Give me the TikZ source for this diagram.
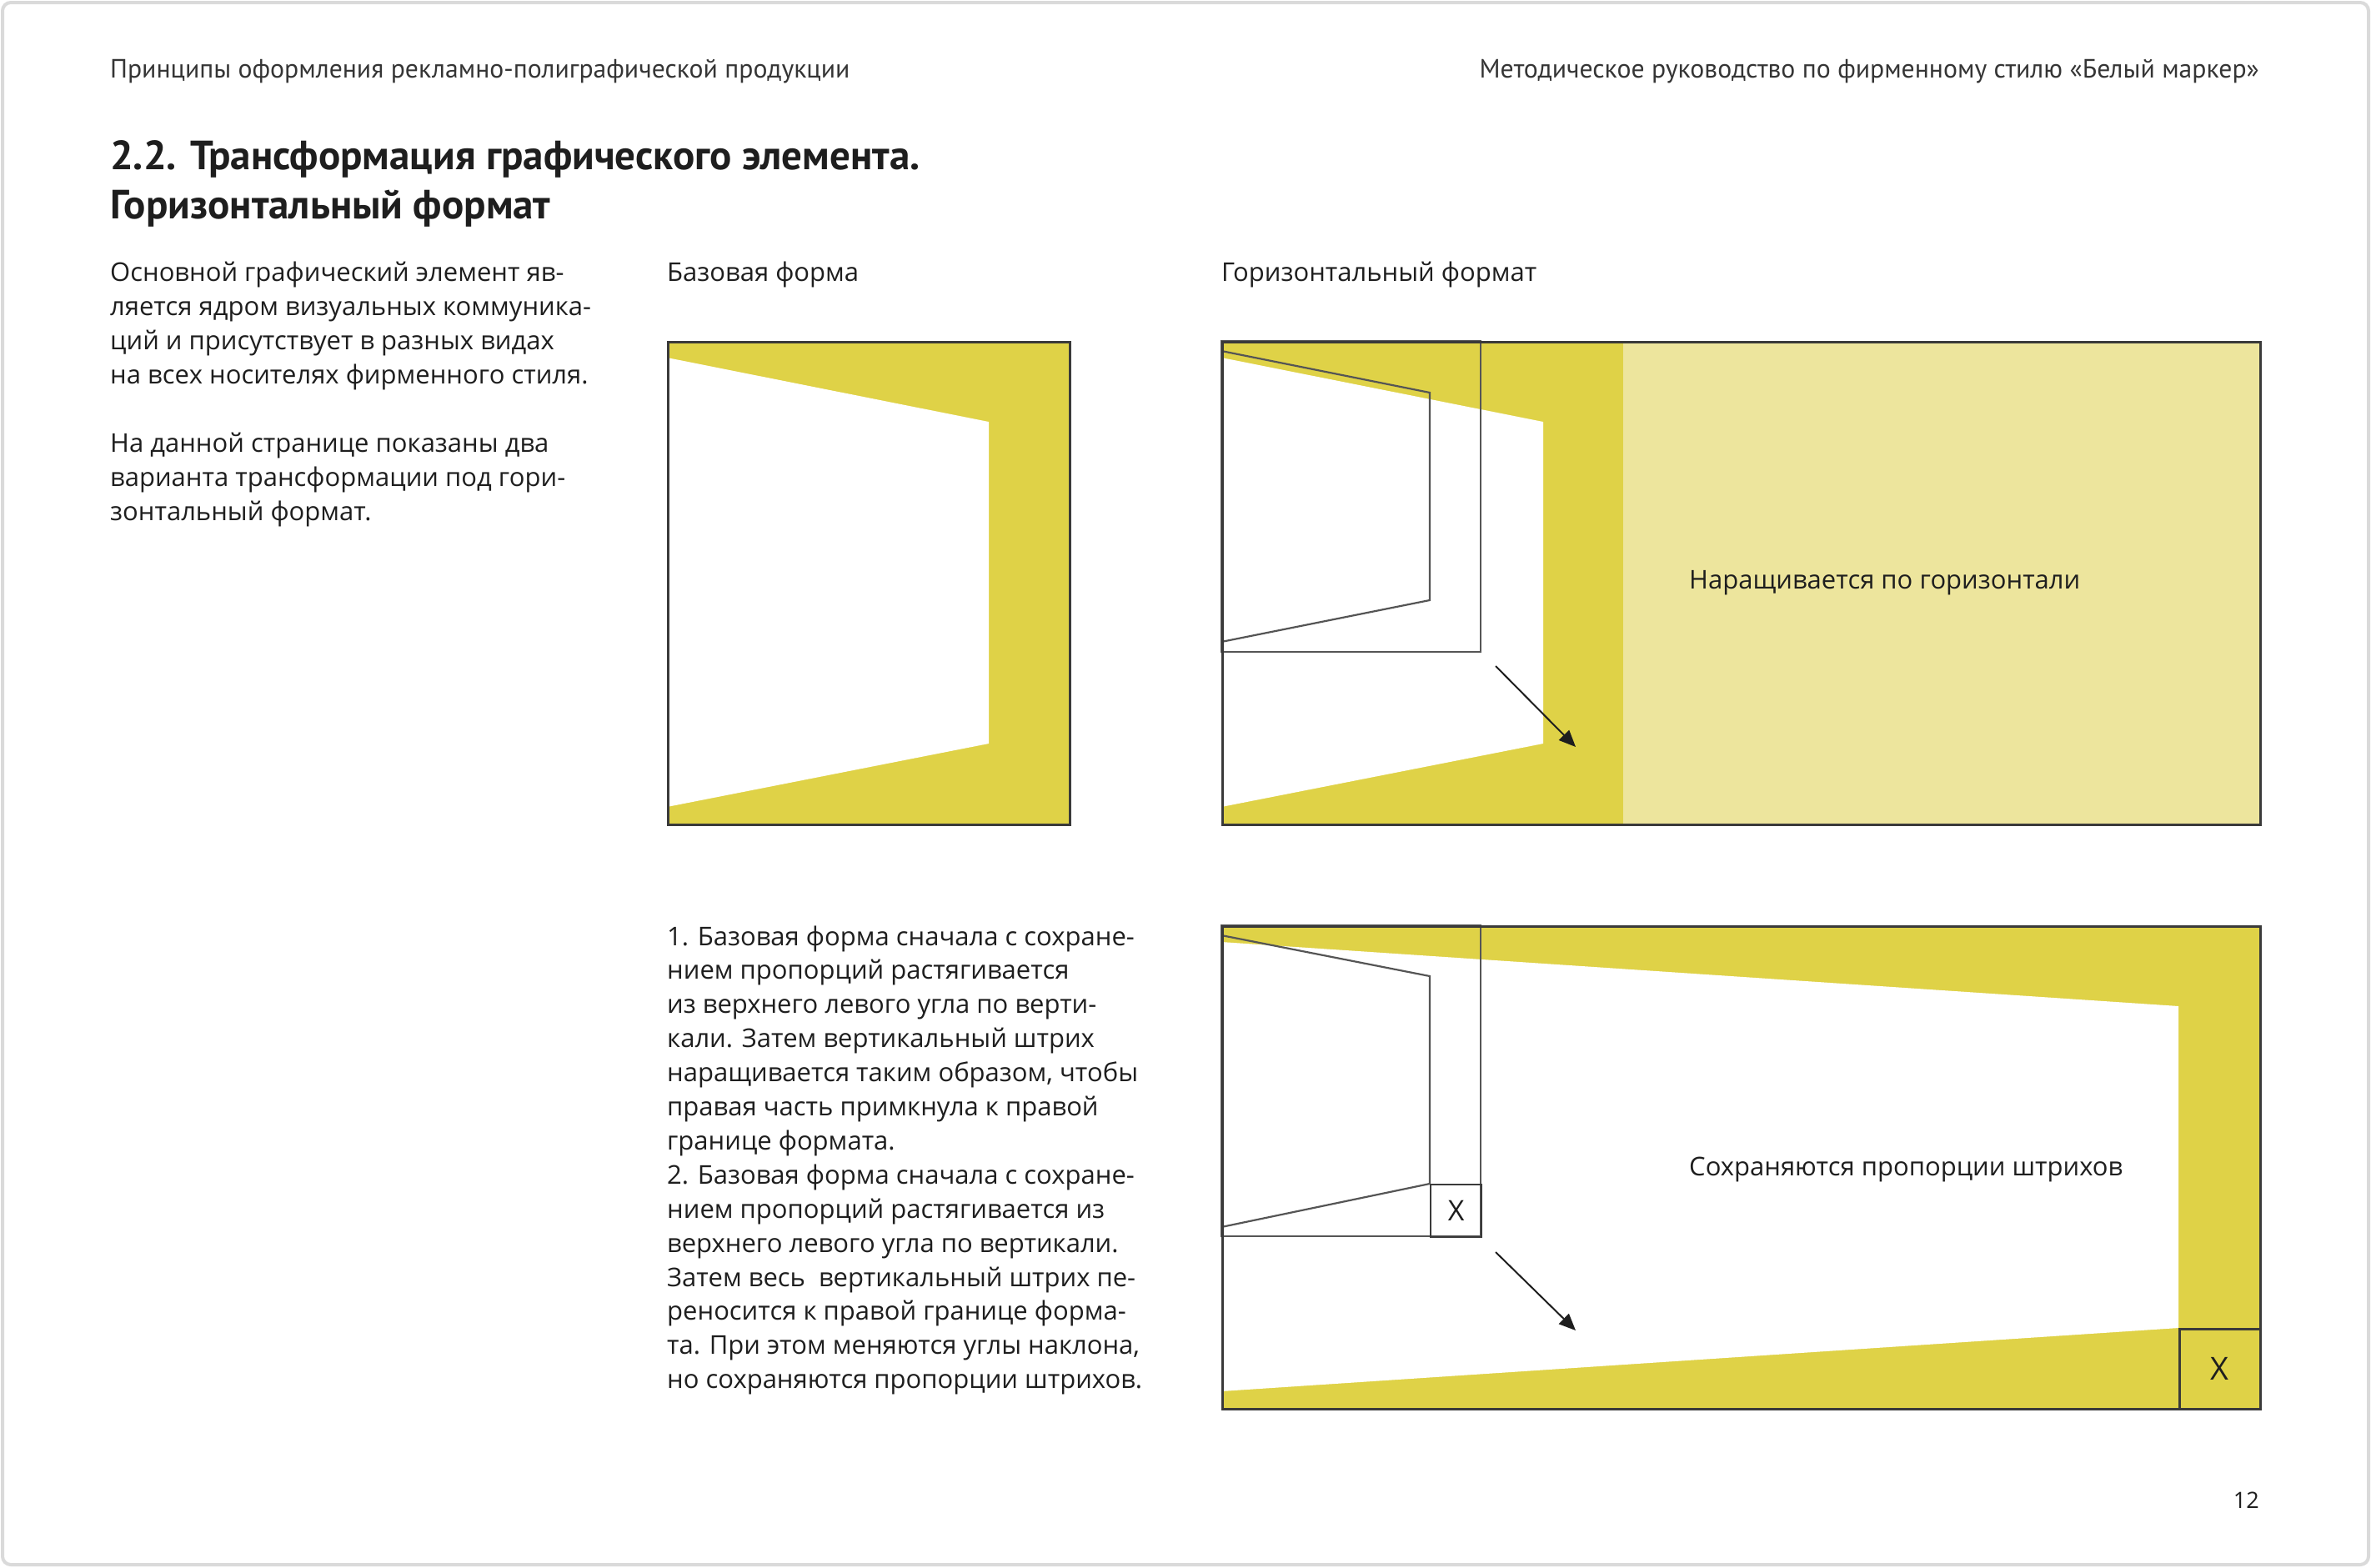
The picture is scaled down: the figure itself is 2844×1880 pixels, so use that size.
\documentclass[tikz,border=0pt]{standalone}
\usepackage{fontspec}
\setmainfont{PT Sans}
\newfontfamily\bodyf{Open Sans}
\usetikzlibrary{arrows.meta}
\definecolor{ydark}{HTML}{DFD247}
\definecolor{ylight}{HTML}{EDE59D}
\definecolor{ink}{HTML}{1E1E1E}
\definecolor{pageframe}{HTML}{DADADA}
\definecolor{boxline}{HTML}{3A3A3A}
\definecolor{guide}{HTML}{555555}
\begin{document}
\begin{tikzpicture}[x=1pt,y=-1pt,
  txt/.style={anchor=base west,inner sep=0pt,text=ink,font=\bodyf\fontsize{31}{41}\selectfont},
  hdr/.style={inner sep=0pt,text=ink!90,font=\fontsize{31.7}{34}\selectfont},
  ttl/.style={anchor=base west,inner sep=0pt,text=ink,font=\fontsize{49}{59}\selectfont\bfseries},
  outer/.style={draw=boxline,line width=2.5pt},
  guideline/.style={draw=guide,line width=2.2pt,line join=miter},
  arr/.style={draw=ink,line width=2pt,-{Triangle[length=20pt,width=17pt]}},
  xmark/.style={inner sep=0pt,text=ink,font=\bodyf\fontsize{38}{40}\selectfont}]
\useasboundingbox (0,0) rectangle (2844,1880);
\fill[white] (0,0) rectangle (2844,1880);
\draw[pageframe,line width=4pt,rounded corners=10pt] (3,3) rectangle (2841,1877);

% header
\node[hdr,anchor=base west] (hl) at (132,93) {Принципы оформления рекламно-полиграфической продукции};
\node[hdr,anchor=base east] (hr) at (2710,93) {Методическое руководство по фирменному стилю «Белый маркер»};
\node[ttl] (t1) at (132,203) {2.2. Трансформация графического элемента.};
\node[ttl] (t2) at (132,262) {Горизонтальный формат};

% left paragraph
\foreach \t [count=\i] in {{Основной графический элемент яв-},{ляется ядром визуальных коммуника-},{ций и присутствует в разных видах},{на всех носителях фирменного стиля.},{},{На данной странице показаны два},{варианта трансформации под гори-},{зонтальный формат.}}
  \node[txt] (p\i) at (132,{337+(\i-1)*41}) {\t};

% labels
\node[txt] (lb1) at (800,337) {Базовая форма};
\node[txt] (lb2) at (1465,337) {Горизонтальный формат};

% bottom paragraph
\foreach \t [count=\i] in {{1. Базовая форма сначала с сохране-},{нием пропорций растягивается},{из верхнего левого угла по верти-},{кали. Затем вертикальный штрих},{наращивается таким образом, чтобы},{правая часть примкнула к правой},{границе формата.},{2. Базовая форма сначала с сохране-},{нием пропорций растягивается из},{верхнего левого угла по вертикали.},{Затем весь\ \ вертикальный штрих пе-},{реносится к правой границе форма-},{та. При этом меняются углы наклона,},{но сохраняются пропорции штрихов.}}
  \node[txt] (q\i) at (800,{1134+(\i-1)*40.9}) {\t};

% ===== base form =====
\fill[ydark] (800,409) rectangle (1282,988);
\fill[white] (800,429) -- (1186,506) -- (1186,892) -- (800,968) -- cycle;
\node[outer,minimum width=482pt,minimum height=579pt,anchor=north west,inner sep=0pt] (base) at (800,409) {};

% ===== horizontal format, variant 1 =====
\fill[ylight] (1947,409) rectangle (2710,988);
\fill[ydark] (1465,409) rectangle (1947,988);
\fill[white] (1465,429) -- (1851,506) -- (1851,892) -- (1465,968) -- cycle;
\draw[guideline] (1465,421) -- (1715,471) -- (1715,720) -- (1465,770);
\draw[guideline] (1465,409) rectangle (1776,782);
\node[outer,minimum width=1245pt,minimum height=579pt,anchor=north west,inner sep=0pt] (h1) at (1465,409) {};
\node[txt] (h1lab) at (2026,706) {Наращивается по горизонтали};
\coordinate (a1s) at (1794,799);
\coordinate (a1e) at (1890,896);
\draw[arr] (a1s) -- (a1e);

% ===== horizontal format, variant 2 =====
\fill[ydark] (1465,1110) rectangle (2710,1689);
\fill[white] (1465,1130) -- (2613,1207) -- (2613,1593) -- (1465,1669) -- cycle;
\draw[guideline] (1465,1122) -- (1715,1171) -- (1715,1420) -- (1465,1472);
\draw[guideline] (1465,1110) rectangle (1776,1483);
\node[draw=boxline,line width=2.2pt,minimum width=61pt,minimum height=63pt,anchor=north west,inner sep=0pt] (xs) at (1715,1420) {};
\node[xmark,font=\bodyf\fontsize{34}{36}\selectfont] (xst) at (xs.center) {X};
\node[draw=boxline,line width=2.5pt,minimum width=97pt,minimum height=96pt,anchor=north west,inner sep=0pt] (xl) at (2613,1593) {};
\node[xmark] (xlt) at (xl.center) {X};
\node[outer,minimum width=1245pt,minimum height=579pt,anchor=north west,inner sep=0pt] (h2) at (1465,1110) {};
\node[txt] (h2lab) at (2026,1410) {Сохраняются пропорции штрихов};
\coordinate (a2s) at (1794,1502);
\coordinate (a2e) at (1890,1596);
\draw[arr] (a2s) -- (a2e);

% page number
\node[inner sep=0pt,anchor=base east,font=\bodyf\fontsize{27}{30}\selectfont,text=ink] (pg) at (2710,1809) {12};
\end{tikzpicture}
\end{document}
